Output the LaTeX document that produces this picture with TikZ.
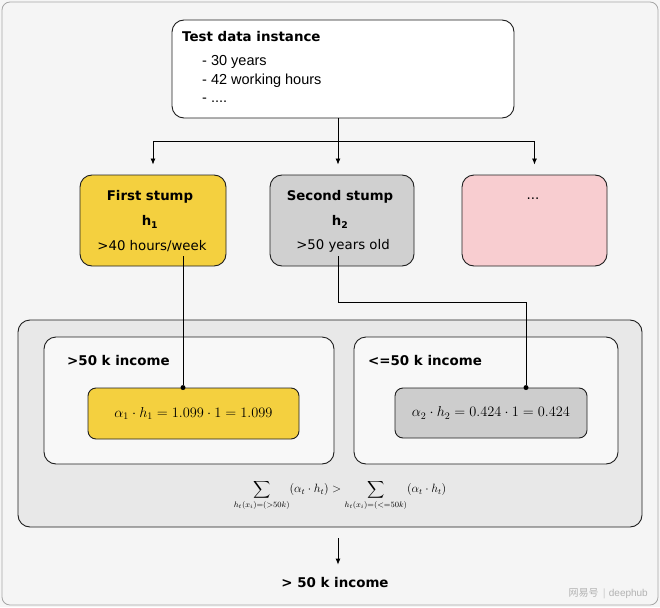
\documentclass[tikz,border=0pt]{standalone}
\usepackage{fontspec}
\usepackage{amsmath}
\setmainfont{DejaVu Sans}
\newfontfamily\arialf{Liberation Sans}
\newfontfamily\cjkf{Noto Sans CJK SC}
\usetikzlibrary{arrows.meta}
\definecolor{bgc}{RGB}{245,245,245}
\definecolor{yel}{RGB}{244,208,63}
\definecolor{gr1}{RGB}{208,208,208}
\definecolor{gr2}{RGB}{205,205,205}
\definecolor{pnk}{RGB}{248,205,208}
\definecolor{pan}{RGB}{232,232,232}
\definecolor{inn}{RGB}{248,248,248}
\definecolor{edge}{RGB}{30,30,30}
\tikzset{
  box/.style={draw=edge, line width=0.9pt, rounded corners=12pt, inner sep=0pt},
  arr/.style={-{Latex[length=6pt,width=5pt]}, line width=0.8pt},
  con/.style={line width=0.8pt},
  lbl/.style={font=\fontsize{13.4}{15}\selectfont\bfseries, anchor=west, inner sep=0pt},
  stxt/.style={font=\fontsize{13.3}{15}\selectfont, inner sep=0pt},
  sbold/.style={font=\fontsize{13.3}{15}\selectfont\bfseries, inner sep=0pt},
  item/.style={anchor=west, inner sep=0pt, font=\arialf\fontsize{14.5}{16}\selectfont},
  fml/.style={font=\fontsize{14.2}{16}\selectfont},
  dot/.style={circle, fill=black, inner sep=0pt, minimum size=5pt},
}
\begin{document}
\begin{tikzpicture}[x=1pt,y=-1pt]
\useasboundingbox (0,0) rectangle (660,607);
\fill[bgc] (0,0) rectangle (660,607);
\draw[draw=gray!70, line width=0.8pt, rounded corners=8pt] (2,2) rectangle (658,605);

% top box
\node[box, fill=white, minimum width=342pt, minimum height=98pt] (top) at (343,69) {};
\node[lbl] (ttl) at (182,37) {Test data instance};
\node[item] (i1) at (202,62) {- 30 years};
\node[item] (i2) at (202,81) {- 42 working hours};
\node[item] (i3) at (202,100) {- ....};

% stumps
\node[box, fill=yel, minimum width=146pt, minimum height=91pt] (s1) at (153,220.5) {};
\node[box, fill=gr1, minimum width=144pt, minimum height=91pt] (s2) at (342,220.5) {};
\node[box, fill=pnk, minimum width=145pt, minimum height=91pt] (s3) at (534.5,220.5) {};
\node[sbold] (s1a) at (150,197) {First stump};
\node[sbold] (s1b) at (150,222) {h$_{\mathbf 1}$};
\node[stxt] (s1c) at (152,246) {>40 hours/week};
\node[sbold] (s2a) at (340,197) {Second stump};
\node[sbold] (s2b) at (340,222) {h$_{\mathbf 2}$};
\node[stxt] (s2c) at (343,246) {>50 years old};
\node[stxt] (s3a) at (533,199) {...};

% connectors top -> stumps
\coordinate (j) at (338,141);
\draw[arr, shorten >=10pt] (top.south -| j) -- (s2.north -| j);
\draw[con] (s1.north |- j) -- (s3.north |- j);
\draw[arr, shorten >=10pt] (s1.north |- j) -- (s1.north);
\draw[arr, shorten >=10pt] (s3.north |- j) -- (s3.north);

% panel
\node[box, fill=pan, minimum width=624pt, minimum height=207pt] (pan) at (330,423.5) {};
\node[box, fill=inn, minimum width=290pt, minimum height=127pt] (bl) at (189,400.5) {};
\node[box, fill=inn, minimum width=264pt, minimum height=127pt] (br) at (486,400.5) {};
\node[lbl] (bla) at (67,360) {>50 k income};
\node[lbl] (bra) at (368,360) {<=50 k income};
\node[box, rounded corners=8pt, fill=yel, minimum width=211pt, minimum height=51pt, fml] (f1) at (193.5,413.5) {$\alpha_1\cdot h_1=1.099\cdot 1=1.099$};
\node[box, rounded corners=8pt, fill=gr2, minimum width=192pt, minimum height=50pt, fml] (f2) at (491,413) {$\alpha_2\cdot h_2=0.424\cdot 1=0.424$};
\node[inner sep=0pt, font=\fontsize{11.8}{14}\selectfont] (sum) at (340,495) {$\displaystyle\sum_{h_t(x_i)=(>50k)}(\alpha_t\cdot h_t)>\sum_{h_t(x_i)=(<=50k)}(\alpha_t\cdot h_t)$};

% stump -> formula lines
\node[dot] (d1) at (f1.north -| 183,0) {};
\node[dot] (d2) at (f2.north -| 526,0) {};
\draw[con] ([yshift=10pt]s1.south -| d1) -- (d1);
\coordinate (k) at (338,302);
\draw[con] ([yshift=10pt]s2.south -| k) -- (k) -| (d2);

% result
\node[lbl, anchor=center] (res) at (335,582) {> 50 k income};
\draw[arr, shorten <=11pt, shorten >=12pt] (pan.south -| j) -- (res.north -| j);

% watermark
\node[anchor=east, inner sep=0pt, text=gray!60, font=\fontsize{10}{11}\selectfont] (wm) at (648,594) {{\cjkf 网易号}\hspace{4pt}{\color{gray!40}|}\hspace{3pt}{\arialf deephub}};
\end{tikzpicture}
\end{document}
